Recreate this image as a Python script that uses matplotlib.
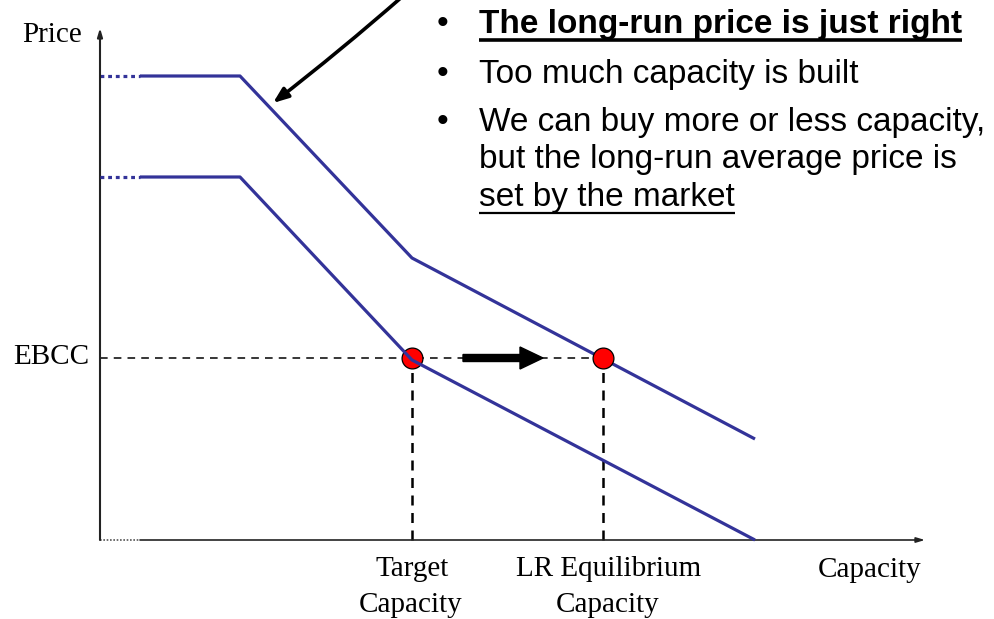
import matplotlib.pyplot as plt

# chart units: origin at the corner of the axes, 1 unit = 1 px
upper_x = [40, 140, 312, 655]
upper_y = [464, 464, 282, 101]
lower_x = [40, 140, 312, 655]
lower_y = [363, 363, 180, 0]
ebcc = 182
target_cap = 312
lr_cap = 503
x_end = 825
y_end = 512

bullets = ["The long-run price is just right",
           "Too much capacity is built",
           "We can buy more or less capacity,",
           "but the long-run average price is",
           "set by the market"]
bullet_base = [33, 83, 131, 168, 206]

blue = "#333399"
serif = "Liberation Serif"
sans = "Liberation Sans"

fig = plt.figure(figsize=(9.95, 6.19), dpi=100)
ax = fig.add_axes([0, 0, 1, 1])
ax.set_xlim(-100, 895)
ax.set_ylim(-79, 540)
ax.axis("off")

# axes
ax.annotate("", xy=(0, y_end), xytext=(0, 0),
            arrowprops=dict(arrowstyle="-|>,head_length=0.5,head_width=0.15", color="#222222", lw=1.5, shrinkA=0, shrinkB=0))
ax.plot([0, 40], [0, 0], color="#555555", lw=1.2, ls=(0, (1, 1)))
ax.annotate("", xy=(x_end, 0), xytext=(40, 0),
            arrowprops=dict(arrowstyle="-|>,head_length=0.5,head_width=0.15", color="#222222", lw=1.2, shrinkA=0, shrinkB=0))

# curves (lower one drawn over the first dot)
for xs, ys, z in [(upper_x, upper_y, 2), (lower_x, lower_y, 4)]:
    ax.plot([0, xs[0]], [ys[0], ys[0]], color=blue, lw=2.3, ls=(0, (1.2, 1.2)), zorder=z)
    ax.plot(xs, ys, color=blue, lw=2.3, solid_capstyle="butt", zorder=z)

# guide lines
ax.plot([0, lr_cap], [ebcc, ebcc], color="black", lw=1.1, ls=(0, (5, 4)), zorder=1)
for xc in [target_cap, lr_cap]:
    ax.plot([xc, xc], [0, ebcc], color="black", lw=1.8, ls=(0, (4, 3)), zorder=1)

ax.plot([target_cap, lr_cap], [ebcc, ebcc], "o", ms=15, mfc="red", mec="black", mew=0.9, zorder=3)

# shift arrow
ax.arrow(363, ebcc, 80, 0, width=7, head_width=22, head_length=23,
         length_includes_head=True, color="black", zorder=2)

# pointer arrow from text to upper curve
ax.annotate("", xy=(173, 437), xytext=(303, 544),
            arrowprops=dict(arrowstyle="-|>,head_length=0.9,head_width=0.35", color="black", lw=2.6,
                            connectionstyle="arc3,rad=-0.015", shrinkA=0, shrinkB=0))

# axis labels
ax.text(-18, 498, "Price", fontsize=21, family=serif, ha="right", va="baseline")
ax.text(-11, 176, "EBCC", fontsize=21, family=serif, ha="right", va="baseline")
ax.text(770, -37, "Capacity", fontsize=21, family=serif, ha="center", va="baseline")
ax.text(312, -36, "Target", fontsize=21, family=serif, ha="center", va="baseline")
ax.text(311, -72, "Capacity", fontsize=21, family=serif, ha="center", va="baseline")
ax.text(509, -36, "LR Equilibrium", fontsize=21, family=serif, ha="center", va="baseline")
ax.text(508, -72, "Capacity", fontsize=21, family=serif, ha="center", va="baseline")

# bullet text
texts = []
for i, (s, b) in enumerate(zip(bullets, bullet_base)):
    y = 540 - b
    if i in (0, 1, 2):
        ax.text(343, y, "\u2022", fontsize=24, family=sans, ha="center", va="baseline")
    t = ax.text(379, y, s, fontsize=24, family=sans, ha="left", va="baseline",
                weight="bold" if i == 0 else "normal")
    texts.append(t)

fig.canvas.draw()
r = fig.canvas.get_renderer()
inv = ax.transData.inverted()
for i, lw in [(0, 2.6), (4, 1.6)]:
    bb = texts[i].get_window_extent(r)
    x0 = inv.transform((bb.x0, 0))[0]
    x1 = inv.transform((bb.x1, 0))[0]
    yu = 540 - bullet_base[i] - 6.5
    ax.plot([x0, x1], [yu, yu], color="black", lw=lw, solid_capstyle="butt")

fig.savefig("out.png", dpi=100)
